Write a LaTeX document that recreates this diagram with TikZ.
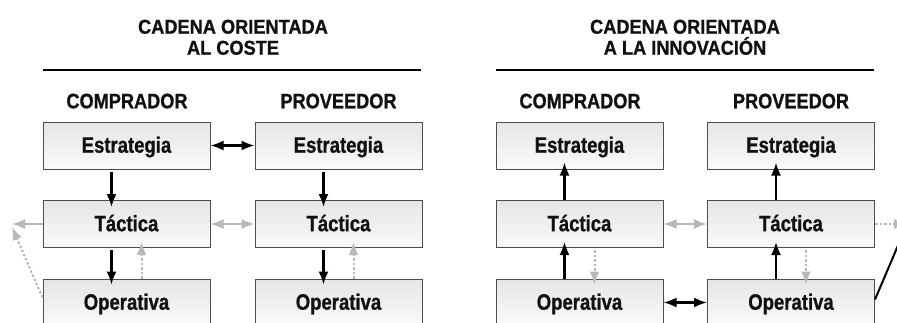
\documentclass[tikz,border=0pt]{standalone}
\usepackage{fontspec}
\setmainfont{Liberation Sans}
\newfontfamily\ttlfont{Liberation Sans Bold}[FakeStretch=0.91,FakeBold=0.9]
\newfontfamily\hdfont{Liberation Sans Bold}[FakeStretch=0.865,FakeBold=0.9]
\newfontfamily\bxfont{Liberation Sans Bold}[FakeStretch=0.83,FakeBold=0.9]
\usetikzlibrary{arrows.meta,calc}
\definecolor{txt}{HTML}{111111}
\definecolor{edge}{HTML}{4D4D4D}
\definecolor{lgray}{HTML}{B8B8B8}
\tikzset{
  tip/.tip={Latex[length=13pt,width=10pt]},
  lvl/.style={draw=edge, line width=1pt, top color=black!10, bottom color=black!2,
    minimum width=167pt, minimum height=47pt, inner sep=0pt,
    text height=16pt, text depth=1.6pt,
    font=\bxfont\fontsize{22.3}{26}\selectfont, text=txt},
  head/.style={font=\hdfont\fontsize{21}{25}\selectfont, text=txt, inner sep=0pt, anchor=base},
  ttl/.style={font=\ttlfont\fontsize{20}{21}\selectfont, text=txt, align=center, inner sep=0pt},
  blk/.style={line width=2.1pt, black, -tip},
  blkd/.style={line width=2.1pt, black, tip-tip},
  gry/.style={line width=2.1pt, lgray, -tip},
  gryd/.style={line width=2.1pt, lgray, tip-tip},
  grydot/.style={line width=2pt, lgray, dash pattern=on 2.5pt off 2pt, -tip},
}
\begin{document}
\begin{tikzpicture}[x=1pt,y=-1pt]
\useasboundingbox (0,0) rectangle (897,322);
\clip (0,0) rectangle (897,322);
% ---------- left panel ----------
\node[ttl] (t1) at (233,37.3) {CADENA ORIENTADA\\AL COSTE};
\coordinate (r1a) at (43,70);
\coordinate (r1b) at (421,70);
\draw[line width=2pt, black] (r1a) -- (r1b);
\node[head] (h1) at (127,108.3) {COMPRADOR};
\node[head] (h2) at (338.5,108.3) {PROVEEDOR};
\node[lvl] (lE) at (126.5,145.5) {Estrategia};
\node[lvl] (lT) at (126.5,224) {Táctica};
\node[lvl] (lO) at (126.5,302.5) {Operativa};
\node[lvl] (mE) at (338.5,145.5) {Estrategia};
\node[lvl] (mT) at (338.5,224) {Táctica};
\node[lvl] (mO) at (338.5,302.5) {Operativa};
% arrows left panel
\foreach \a/\b/\c in {lE/lT/lO, mE/mT/mO}{
  \draw[blk] ([xshift=-15pt,yshift=-2pt]\a.south) -- ([xshift=-15pt,yshift=-7pt]\b.north);
  \draw[blk] ([xshift=-15pt,yshift=-2pt]\b.south) -- ([xshift=-15pt,yshift=-6pt]\c.north);
  \draw[grydot] ([xshift=15pt]\c.north) -- ([xshift=15pt,yshift=6pt]\b.south);
}
\draw[blkd] (lE.east) -- (mE.west);
\draw[gryd] (lT.east) -- (mT.west);
\coordinate (lout) at (12,224);
\coordinate (lout2) at (12,227);
\draw[gry] (lT.west) -- (lout);
\draw[grydot] ([yshift=5pt]lO.west) -- (lout2);
% ---------- right panel ----------
\node[ttl] (t2) at (685,37.3) {CADENA ORIENTADA\\A LA INNOVACIÓN};
\coordinate (r2a) at (496,70);
\coordinate (r2b) at (874,70);
\draw[line width=2pt, black] (r2a) -- (r2b);
\node[head] (h3) at (580,108.3) {COMPRADOR};
\node[head] (h4) at (791,108.3) {PROVEEDOR};
\node[lvl] (RE) at (579.5,145.5) {Estrategia};
\node[lvl] (RT) at (579.5,224) {Táctica};
\node[lvl] (RO) at (579.5,302.5) {Operativa};
\node[lvl] (SE) at (791,145.5) {Estrategia};
\node[lvl] (ST) at (791,224) {Táctica};
\node[lvl] (SO) at (791,302.5) {Operativa};
\foreach \a/\b/\c in {RE/RT/RO, SE/ST/SO}{
  \draw[blk] ([xshift=-15pt]\b.north) -- ([xshift=-15pt,yshift=7pt]\a.south);
  \draw[blk] ([xshift=-15pt]\c.north) -- ([xshift=-15pt,yshift=6pt]\b.south);
  \draw[grydot] ([xshift=15pt,yshift=-2pt]\b.south) -- ([xshift=15pt,yshift=-6pt]\c.north);
}
\draw[gryd] (RT.east) -- (ST.west);
\draw[blkd] (RO.east) -- (SO.west);
\coordinate (rout) at (907,224);
\coordinate (rout2) at (905,229);
\draw[grydot] (ST.east) -- (rout);
\draw[line width=2pt, black] ([yshift=3pt]SO.east) -- (rout2);
\end{tikzpicture}
\end{document}
